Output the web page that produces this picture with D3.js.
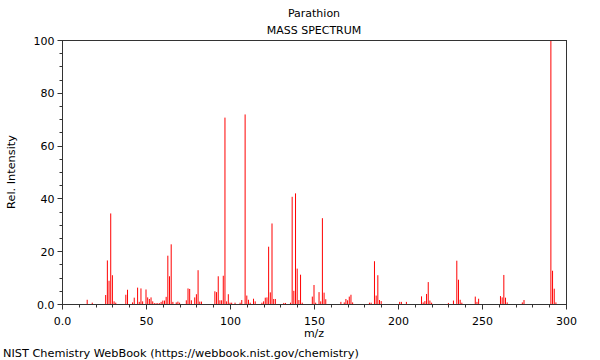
<!DOCTYPE html>
<html><head><meta charset="utf-8">
<script src="https://cdn.jsdelivr.net/npm/d3@7"></script>
<style>body{margin:0;background:#fff}svg{display:block}text{font-family:"DejaVu Sans",sans-serif;fill:#000}</style>
</head><body>
<svg id="c" width="600" height="360"></svg>
<script>
const mz = [15,18,26,27,28,29,30,31,32,38,39,42,43,45,46,47,48,50,51,52,53,54,55,56,57,58,59,60,61,62,63,64,65,66,68,69,70,74,75,76,77,79,80,81,82,83,91,92,93,94,95,96,97,98,99,100,101,103,106,107,109,110,111,112,114,115,119,120,121,122,123,124,125,126,127,132,133,136,137,138,139,140,141,142,143,149,150,151,153,154,155,156,157,166,168,169,170,171,172,173,183,184,186,187,188,189,190,201,202,205,214,215,216,217,218,219,220,230,233,235,236,237,238,246,247,248,261,262,263,264,265,274,275,291,292,293,294];
const intensity = [1.6,0.5,3.4,16.5,8.8,34.3,10.9,1.0,0.5,3.5,5.4,0.6,2.4,6.2,0.8,5.9,1.0,5.5,2.5,1.9,2.5,1.0,0.3,0.3,0.3,0.3,0.8,1.3,1.3,2.7,18.3,10.5,22.6,0.8,0.6,0.9,0.5,1.4,5.9,5.7,1.4,2.5,3.7,12.8,0.9,0.9,4.8,4.5,10.5,1.4,1.4,10.7,70.6,1.0,3.7,0.5,0.5,0.5,0.5,1.5,71.8,3.2,1.6,0.5,2.0,1.0,0.5,1.0,2.4,2.5,21.7,4.4,30.5,1.9,1.9,0.4,0.4,0.5,40.6,5.0,41.9,13.4,1.5,11.1,0.5,2.8,7.2,0.5,4.5,1.0,32.5,4.3,1.8,0.8,0.6,1.9,1.4,2.8,3.5,0.6,0.5,0.5,16.2,3.2,10.9,1.5,1.1,0.8,0.8,0.8,2.9,0.6,1.1,3.8,8.3,1.3,0.5,0.4,1.3,16.4,9.2,1.6,0.5,2.8,0.8,2.0,3.0,2.5,11.0,2.4,0.6,0.6,1.5,100,12.6,5.8,0.6];
const xMajorTicks = [0,50,100,150,200,250,300];
const xTickLabels = ["0.0","50","100","150","200","250","300"];
const yMajorTicks = [0,20,40,60,80,100];
const yTickLabels = ["0.0","20","40","60","80","100"];
const title = "Parathion";
const subtitle = "MASS SPECTRUM";
const xLabel = "m/z";
const yLabel = "Rel. Intensity";
const footer = "NIST Chemistry WebBook (https://webbook.nist.gov/chemistry)";

const svg = d3.select("#c");
const L = 62, R = 566, T = 40, B = 304;
const x = d3.scaleLinear().domain([0,300]).range([L,R]);
const y = d3.scaleLinear().domain([0,100]).range([B,T]);
const data = mz.map((m,i)=>({m, v:intensity[i]}));

// bars
svg.append("g").selectAll("line").data(data).join("line")
  .attr("x1",d=>x(d.m)).attr("x2",d=>x(d.m))
  .attr("y1",y(0)).attr("y2",d=>y(d.v))
  .attr("stroke","#ff0000").attr("stroke-width",1);

// frame
svg.append("rect").attr("x",L+0.5).attr("y",T+0.5).attr("width",R-L).attr("height",B-T)
  .attr("fill","none").attr("stroke","#333").attr("stroke-width",1);

// x axis
const xa = svg.append("g").attr("transform",`translate(0.5,${B+0.5})`);
xa.selectAll("line.mn").data(d3.range(0,301,10)).join("line")
  .attr("x1",d=>Math.round(x(d))).attr("x2",d=>Math.round(x(d)))
  .attr("y1",0).attr("y2",d=>d%50===0?5:3).attr("stroke","#333");
xa.selectAll("text").data(xMajorTicks).join("text")
  .attr("x",d=>x(d)).attr("y",20).attr("text-anchor","middle")
  .attr("font-size",11).text((d,i)=>xTickLabels[i]);

// y axis
const ya = svg.append("g").attr("transform",`translate(${L+0.5},0.5)`);
ya.selectAll("line").data(d3.range(0,101,5)).join("line")
  .attr("y1",d=>Math.round(y(d))).attr("y2",d=>Math.round(y(d)))
  .attr("x1",0).attr("x2",d=>d%20===0?-5:-3).attr("stroke","#333");
ya.selectAll("text").data(yMajorTicks).join("text")
  .attr("x",-8).attr("y",d=>y(d)+4).attr("text-anchor","end")
  .attr("font-size",11).text((d,i)=>yTickLabels[i]);

// titles
svg.append("text").attr("x",(L+R)/2).attr("y",17).attr("text-anchor","middle").attr("font-size",11).text(title);
svg.append("text").attr("x",(L+R)/2).attr("y",34).attr("text-anchor","middle").attr("font-size",11).text(subtitle);
svg.append("text").attr("x",(L+R)/2).attr("y",337).attr("text-anchor","middle").attr("font-size",11).text(xLabel);
svg.append("text").attr("transform",`translate(15,${(T+B)/2}) rotate(-90)`).attr("text-anchor","middle").attr("font-size",11.3).text(yLabel);
svg.append("text").attr("x",3).attr("y",357).attr("font-size",11.3).text(footer);
</script>
</body></html>
